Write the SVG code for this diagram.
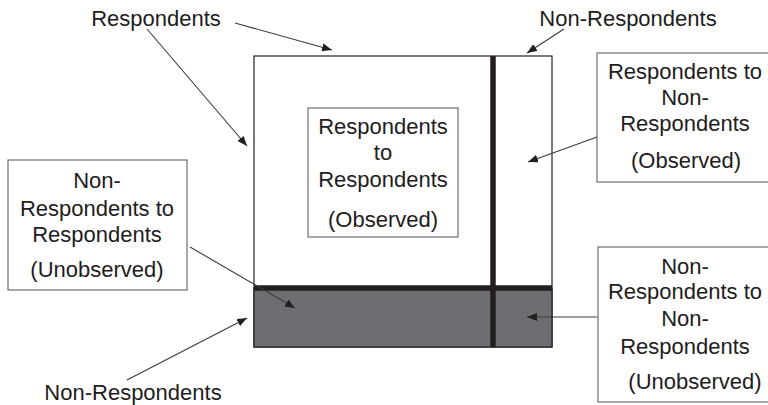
<svg xmlns="http://www.w3.org/2000/svg" width="768" height="405" viewBox="0 0 768 405">
<style>
text{font-family:"Liberation Sans",Arial,sans-serif;font-size:22px;fill:#1e1c1d;text-anchor:middle}
.box{fill:#fff;stroke:#6d6e71;stroke-width:1.2}
.c line{stroke:#3a3a3a;stroke-width:1.1}
</style>
<defs>
<marker id="ah" viewBox="0 0 10 8" refX="10" refY="4" markerWidth="10" markerHeight="8" markerUnits="userSpaceOnUse" orient="auto">
<path d="M0,0L10,4L0,8z" fill="#231f20"/>
</marker>
</defs>
<rect width="768" height="405" fill="#fff"/>
<g id="grid">
<rect x="254" y="56" width="298" height="291" fill="#fff" stroke="#231f20" stroke-width="1.2"/>
<rect x="254" y="288" width="298" height="59" fill="#6d6e71" stroke="#231f20" stroke-width="1.2"/>
<line x1="254" y1="288" x2="552" y2="288" stroke="#231f20" stroke-width="5.5"/>
<line x1="493" y1="56" x2="493" y2="347" stroke="#231f20" stroke-width="5.5"/>
</g>
<g id="rr">
<rect class="box" x="308" y="108" width="150" height="129"/>
<text x="383" y="134">Respondents</text>
<text x="383" y="160">to</text>
<text x="383" y="187">Respondents</text>
<text x="383" y="227">(Observed)</text>
</g>
<g id="rnr">
<rect class="box" x="597" y="53" width="175" height="129"/>
<text x="685" y="79">Respondents to</text>
<text x="685" y="105">Non-</text>
<text x="685" y="131">Respondents</text>
<text x="686" y="168">(Observed)</text>
</g>
<g id="nrr">
<rect class="box" x="8" y="160" width="179" height="130"/>
<text x="97" y="188">Non-</text>
<text x="97" y="216">Respondents to</text>
<text x="97" y="242">Respondents</text>
<text x="97" y="277">(Unobserved)</text>
</g>
<g id="nrnr">
<rect class="box" x="598" y="247" width="175" height="155"/>
<text x="685" y="274">Non-</text>
<text x="685" y="299">Respondents to</text>
<text x="685" y="326">Non-</text>
<text x="685" y="354">Respondents</text>
<text x="695" y="389">(Unobserved)</text>
</g>
<g id="lbl-resp"><text x="156" y="26">Respondents</text></g>
<g id="lbl-nonresp-top"><text x="628" y="26">Non-Respondents</text></g>
<g id="lbl-nonresp-bottom"><text x="133" y="400">Non-Respondents</text></g>
<g id="connectors" class="c">
<line x1="235" y1="23" x2="332" y2="50" marker-end="url(#ah)"/>
<line x1="147" y1="29" x2="247" y2="146" marker-end="url(#ah)"/>
<line x1="564" y1="29" x2="527" y2="53" marker-end="url(#ah)"/>
<line x1="597" y1="137" x2="528" y2="162" marker-end="url(#ah)"/>
<line x1="190" y1="247" x2="295" y2="308" marker-end="url(#ah)"/>
<line x1="127" y1="380" x2="247" y2="318" marker-end="url(#ah)"/>
<line x1="597" y1="317" x2="527" y2="317" marker-end="url(#ah)"/>
</g>
</svg>
